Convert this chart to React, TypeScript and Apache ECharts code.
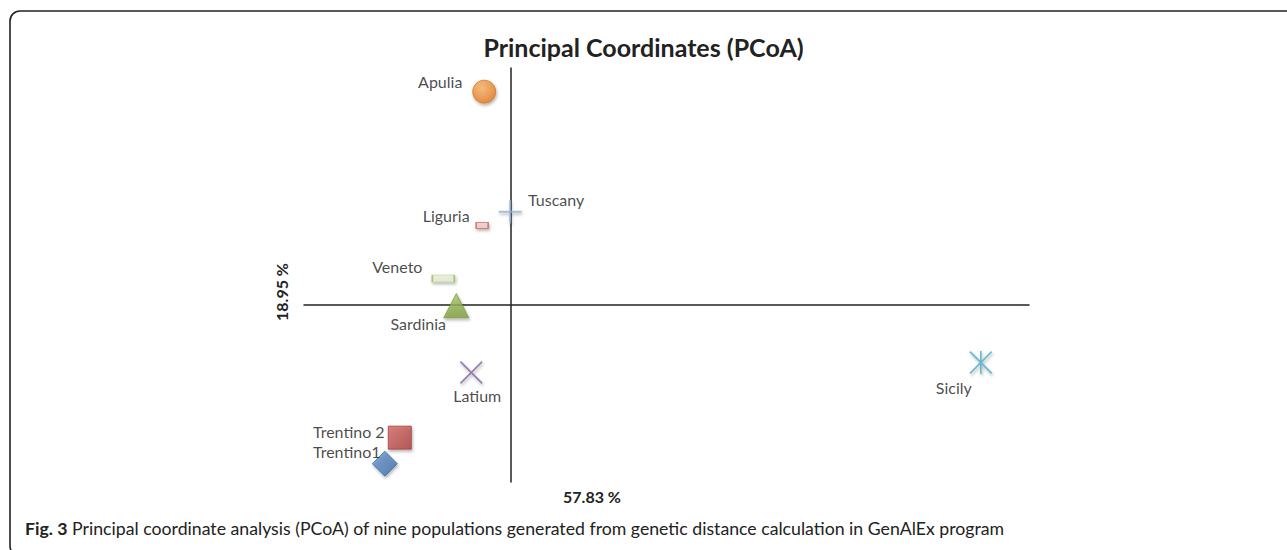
import React, { useEffect, useRef } from "react";
import * as echarts from "echarts";

// ---- data ----
const populations = ["Apulia", "Tuscany", "Liguria", "Veneto", "Sardinia", "Latium", "Trentino 2", "Trentino1", "Sicily"];
const coord1 = [-0.052, -0.002, -0.056, -0.131, -0.106, -0.077, -0.215, -0.244, 0.907];
const coord2 = [0.360, 0.157, 0.134, 0.044, -0.002, -0.115, -0.225, -0.269, -0.098];
const xAxisName = "57.83 %";
const yAxisName = "18.95 %";
const titleText = "Principal Coordinates (PCoA)";
const captionBold = "Fig. 3";
const captionText = " Principal coordinate analysis (PCoA) of nine populations generated from genetic distance calculation in GenAlEx program";

// ---- marker styles (kept apart from data) ----
const PLUS = "path://M0,9.2 L20,9.2 L20,10.8 L0,10.8 Z M9.2,0 L10.8,0 L10.8,20 L9.2,20 Z";
const CROSS = "path://M0,1.1 L1.1,0 L20,18.9 L18.9,20 Z M18.9,0 L20,1.1 L1.1,20 L0,18.9 Z";
const STAR = "path://M0,1.1 L1.1,0 L20,18.9 L18.9,20 Z M18.9,0 L20,1.1 L1.1,20 L0,18.9 Z M9.25,0 L10.75,0 L10.75,20 L9.25,20 Z";

const markerStyles: Record<string, any> = {
  Apulia: { symbol: "circle", size: 23, color: { type: "radial", x: 0.4, y: 0.35, r: 0.7, colorStops: [{ offset: 0, color: "#fbb46a" }, { offset: 1, color: "#e07a1f" }] }, border: "#d9731c", offset: [-44, -10] },
  Tuscany: { symbol: PLUS, size: 23, color: "#95b3d7", border: "#95b3d7", offset: [46, -12] },
  Liguria: { symbol: "rect", size: [12, 6], color: "#f2c9c8", border: "#c0504d", offset: [-36, -10] },
  Veneto: { symbol: "rect", size: [22, 7], color: "#e6eed5", border: "#9bbb59", offset: [-46, -12] },
  Sardinia: { symbol: "triangle", size: [25, 24], color: { type: "linear", x: 0, y: 0, x2: 0, y2: 1, colorStops: [{ offset: 0, color: "#a9c86a" }, { offset: 1, color: "#7f9e40" }] }, border: "#7f9e40", offset: [-38, 18] },
  Latium: { symbol: CROSS, size: 23, color: "#8064a2", border: "#8064a2", offset: [6, 23] },
  "Trentino 2": { symbol: "rect", size: 23, color: { type: "linear", x: 0, y: 0, x2: 1, y2: 1, colorStops: [{ offset: 0, color: "#d46a66" }, { offset: 1, color: "#a8403d" }] }, border: "#a8403d", offset: [-51, -6] },
  Trentino1: { symbol: "diamond", size: [25, 25], color: { type: "linear", x: 0, y: 0, x2: 1, y2: 1, colorStops: [{ offset: 0, color: "#6a98d0" }, { offset: 1, color: "#3b6aa3" }] }, border: "#3b6aa3", offset: [-38, -12] },
  Sicily: { symbol: STAR, size: 23, color: "#4bacc6", border: "#4bacc6", offset: [-27, 25] },
};

const FONT = "Lato, 'Open Sans', sans-serif";

export default function App() {
  const ref = useRef<HTMLDivElement>(null);
  useEffect(() => {
    if (!ref.current) return;
    const chart = echarts.init(ref.current, undefined, { renderer: "svg" });
    const data = populations.map((name, i) => {
      const s = markerStyles[name];
      const isLine = s.symbol === PLUS || s.symbol === CROSS || s.symbol === STAR;
      return {
        name,
        value: [coord1[i], coord2[i]],
        symbol: s.symbol,
        symbolSize: s.size,
        itemStyle: {
          color: s.color,
          borderColor: s.border,
          borderWidth: isLine ? 0 : 1,
          shadowBlur: 3,
          shadowColor: "rgba(0,0,0,0.35)",
          shadowOffsetX: 1,
          shadowOffsetY: 2,
        },
        label: { offset: s.offset },
      };
    });
    chart.setOption({
      animation: false,
      backgroundColor: "#ffffff",
      title: {
        text: titleText,
        left: "center",
        top: 29,
        textStyle: { fontFamily: FONT, fontWeight: "bold", fontSize: 25, color: "#222" },
      },
      grid: { left: 304, right: 258, top: 68, bottom: 68 },
      xAxis: {
        type: "value",
        min: -0.4,
        max: 1.0,
        axisLine: { show: true, onZero: true, lineStyle: { color: "#222", width: 1.5 } },
        axisTick: { show: false },
        axisLabel: { show: false },
        splitLine: { show: false },
      },
      yAxis: {
        type: "value",
        min: -0.3,
        max: 0.4,
        axisLine: { show: true, onZero: true, lineStyle: { color: "#222", width: 1.5 } },
        axisTick: { show: false },
        axisLabel: { show: false },
        splitLine: { show: false },
      },
      series: [
        {
          type: "scatter",
          data,
          label: {
            show: true,
            position: "inside",
            formatter: "{b}",
            color: "#1a1a1a",
            fontFamily: FONT,
            fontSize: 16,
            textBorderWidth: 0,
          },
          emphasis: { disabled: true },
        },
      ],
      graphic: [
        {
          type: "rect",
          shape: { x: 10, y: 11, width: 1300, height: 545, r: [10, 0, 0, 10] },
          style: { fill: "none", stroke: "#222", lineWidth: 1.6 },
          silent: true,
        },
        {
          type: "text",
          x: 592,
          y: 496,
          style: { text: xAxisName, fontFamily: FONT, fontWeight: "bold", fontSize: 16, fill: "#222", align: "center", verticalAlign: "middle" },
        },
        {
          type: "text",
          x: 281,
          y: 292,
          rotation: Math.PI / 2,
          style: { text: yAxisName, fontFamily: FONT, fontWeight: "bold", fontSize: 16, fill: "#222", align: "center", verticalAlign: "middle" },
        },
        {
          type: "text",
          x: 25,
          y: 528,
          style: {
            text: "{b|" + captionBold + "}{r|" + captionText + "}",
            verticalAlign: "middle",
            rich: {
              b: { fontFamily: FONT, fontWeight: "bold", fontSize: 17.7, fill: "#222" },
              r: { fontFamily: FONT, fontSize: 17.7, fill: "#222" },
            },
          },
        },
      ],
    });
    return () => chart.dispose();
  }, []);
  return <div ref={ref} style={{ position: "fixed", left: 0, top: 0, width: 1287, height: 550 }} />;
}
